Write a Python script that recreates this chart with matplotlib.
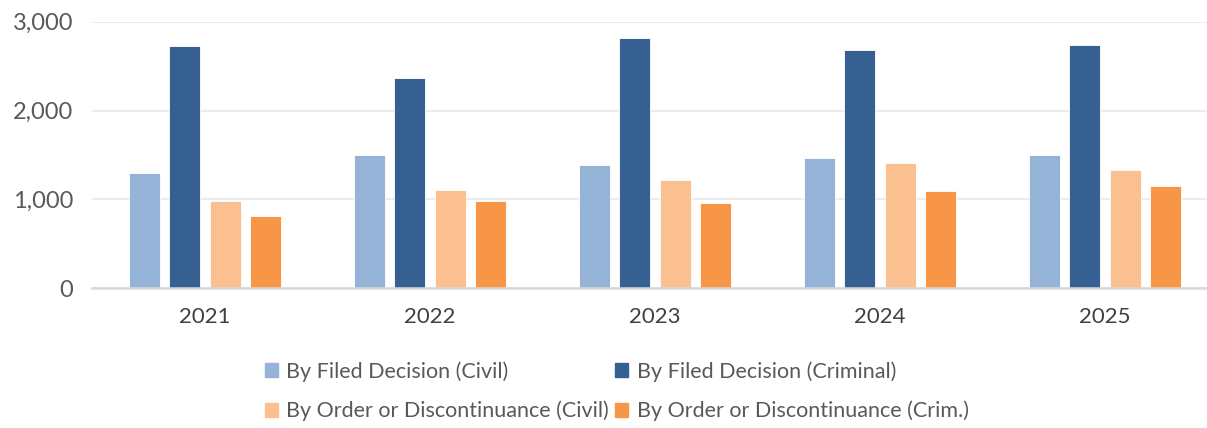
import numpy as np
import matplotlib.pyplot as plt
from matplotlib.patches import Patch

plt.rcParams['font.family'] = ['Lato', 'DejaVu Sans']

years = ['2021', '2022', '2023', '2024', '2025']
filed_civil = [1302, 1498, 1381, 1468, 1502]
filed_criminal = [2725, 2371, 2823, 2680, 2744]
order_civil = [986, 1110, 1223, 1404, 1332]
order_crim = [813, 979, 963, 1088, 1155]

series = [filed_civil, filed_criminal, order_civil, order_crim]
labels = ['By Filed Decision (Civil)', 'By Filed Decision (Criminal)',
          'By Order or Discontinuance (Civil)', 'By Order or Discontinuance (Crim.)']
colors = ['#95b3d7', '#366092', '#fac090', '#f79646']

fig = plt.figure(figsize=(12.07, 4.28), dpi=100)
ax = fig.add_axes([0.0766, 0.327, 0.932, 0.622])

x = np.arange(len(years))
pitch = 0.18
for i, vals in enumerate(series):
    ax.bar(x + (i - 1.5) * pitch, vals, width=0.138, color=colors[i],
           edgecolor='white', linewidth=0.6, zorder=3)

ax.set_xlim(-0.5, len(years) - 0.5)
ax.set_ylim(0, 3000)
ax.set_yticks([0, 1000, 2000, 3000])
ax.set_yticklabels(['0', '1,000', '2,000', '3,000'])
ax.set_xticks(x)
ax.set_xticklabels(years)
ax.grid(axis='y', color='#ececec', linewidth=1.5, zorder=0)
ax.tick_params(axis='y', length=0, pad=14, labelsize=17, labelcolor='#595959')
ax.tick_params(axis='x', length=0, pad=14, labelsize=16, labelcolor='#404040')
for s in ['top', 'right', 'left']:
    ax.spines[s].set_visible(False)
ax.spines['bottom'].set_color('#d9d9d9')
ax.spines['bottom'].set_linewidth(1.8)
ax.spines['bottom'].set_zorder(4)

# legend is filled by column, so reorder to read row by row
handles = [Patch(color=c, label=l) for c, l in zip(colors, labels)]
handles = [handles[0], handles[2], handles[1], handles[3]]
fig.legend(handles=handles, ncol=2, loc='center', bbox_to_anchor=(0.511, 0.086),
           frameon=False, fontsize=15.5, labelcolor='#595959',
           handlelength=0.6, handleheight=0.6, handletextpad=0.4,
           columnspacing=0.3, labelspacing=0.9)

plt.savefig('out.png', dpi=100)
